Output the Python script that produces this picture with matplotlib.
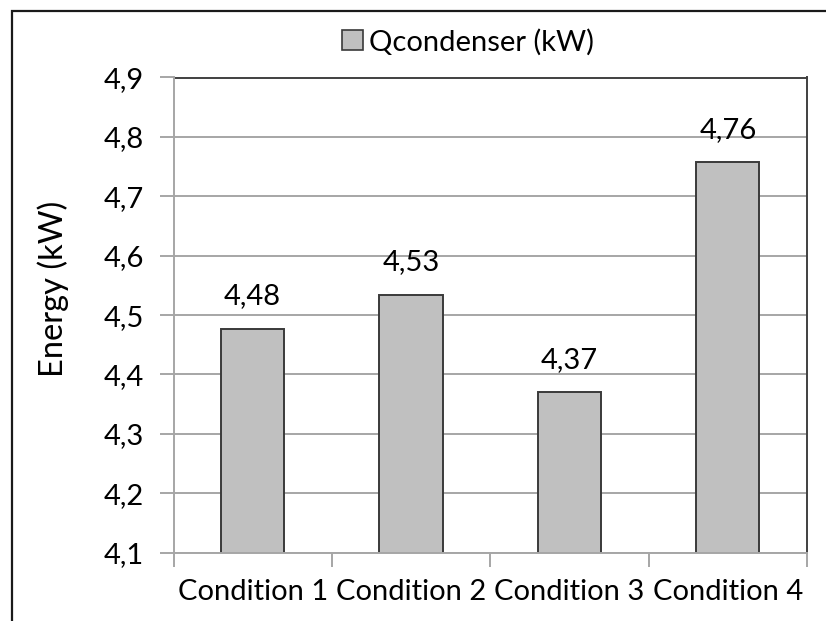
import matplotlib
matplotlib.use("Agg")
import matplotlib.pyplot as plt
from matplotlib.patches import Rectangle, Patch
from matplotlib.ticker import FixedLocator, FuncFormatter

# Data
categories = ["Condition 1", "Condition 2", "Condition 3", "Condition 4"]
q_condenser = [4.477, 4.534, 4.370, 4.757]
series_name = "Qcondenser (kW)"
y_ticks = [4.1, 4.2, 4.3, 4.4, 4.5, 4.6, 4.7, 4.8, 4.9]

plt.rcParams["font.family"] = ["Lato", "DejaVu Sans"]
FS = 21

W, H = 826, 621
fig = plt.figure(figsize=(W / 100, H / 100), dpi=100)
ax = fig.add_axes([173.5 / W, 1 - 552.7 / H, (807 - 173.5) / W, (552.7 - 77.5) / H])

x = list(range(len(categories)))
bars = ax.bar(x, q_condenser, width=0.4, color="#c0c0c0", edgecolor="#3a3a3a",
              linewidth=1.4, zorder=3)

ax.set_xlim(-0.5, len(categories) - 0.5)
ax.set_ylim(4.1, 4.9)

comma = lambda v, _=None: f"{v:.1f}".replace(".", ",")
ax.yaxis.set_major_locator(FixedLocator(y_ticks))
ax.yaxis.set_major_formatter(FuncFormatter(comma))
ax.grid(axis="y", color="#a6a6a6", linewidth=1.4, zorder=0)

ax.set_xticks(x)
ax.set_xticklabels(categories)
ax.set_xticks([i - 0.5 for i in range(len(categories) + 1)], minor=True)
ax.tick_params(axis="x", which="major", length=0, pad=19, labelsize=FS)
ax.tick_params(axis="x", which="minor", length=10, width=1.4, color="#a6a6a6", direction="out")
ax.tick_params(axis="y", length=10, width=1.4, color="#a6a6a6", direction="out",
               pad=11, labelsize=FS)

for side in ("top", "right"):
    ax.spines[side].set_color("#404040")
    ax.spines[side].set_linewidth(1.4)
for side in ("left", "bottom"):
    ax.spines[side].set_color("#a6a6a6")
    ax.spines[side].set_linewidth(1.4)
    ax.spines[side].set_zorder(4)

ax.set_ylabel("Energy (kW)", fontsize=23.5, va="center")
ax.yaxis.set_label_coords((53 - 173.5) / (807 - 173.5), (552.7 - 289) / (552.7 - 77.5))

for xi, v in zip(x, q_condenser):
    ax.annotate(f"{v:.2f}".replace(".", ","), (xi, v), xytext=(0, 14),
                textcoords="offset points", ha="center", va="bottom", fontsize=FS)

handle = Patch(facecolor="#c0c0c0", edgecolor="#3a3a3a", linewidth=1.2)
fig.legend([handle], [series_name], loc="center", bbox_to_anchor=(468 / W, 1 - 42 / H),
           frameon=False, fontsize=FS, handlelength=0.7, handleheight=0.7,
           handletextpad=0.2, borderaxespad=0)

# Chart area frame
fig.patches.append(Rectangle((12 / W, -0.1), 1.2, 1 - 11 / H + 0.1,
                             transform=fig.transFigure, fill=False,
                             edgecolor="#1a1a1a", linewidth=1.6))

fig.savefig("out.png", dpi=100)
